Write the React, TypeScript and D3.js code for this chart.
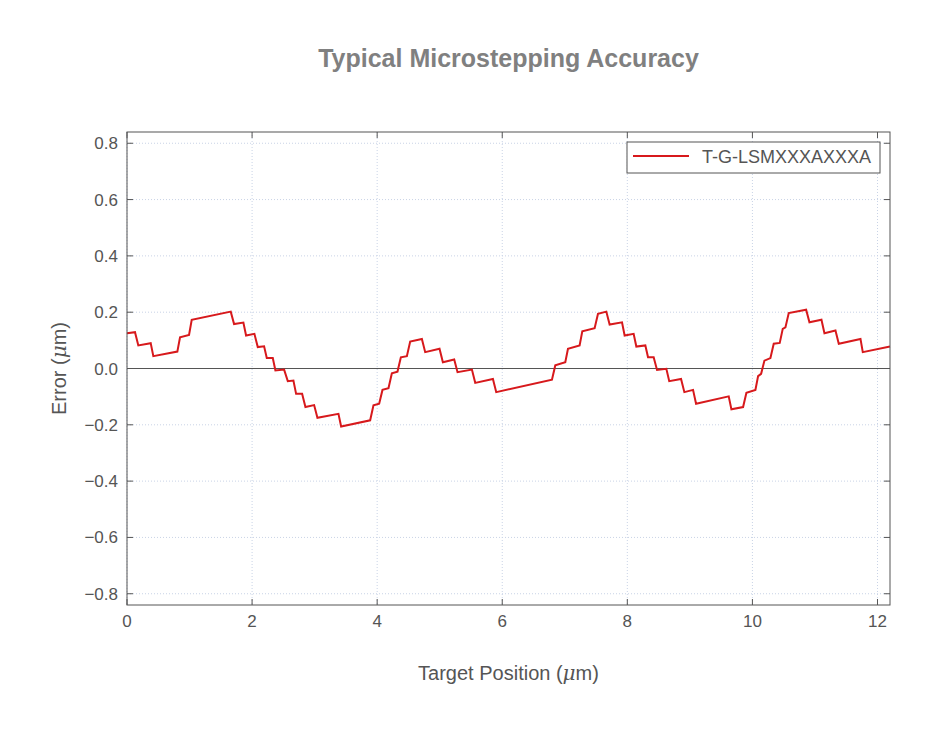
import { useEffect, useRef } from 'react';
import * as d3 from 'd3';

// measured error trace: target position (µm) and error (µm)
const positions = [
  0, 0.128, 0.181, 0.379, 0.421, 0.805, 0.848, 0.992, 1.035, 1.659, 1.712, 1.861, 1.904,
  2.037, 2.091, 2.192, 2.235, 2.331, 2.373, 2.512, 2.571, 2.661, 2.704, 2.8, 2.853, 2.992,
  3.045, 3.381, 3.424, 3.888, 3.941, 4.032, 4.085, 4.181, 4.235, 4.325, 4.379, 4.475, 4.528,
  4.715, 4.768, 4.997, 5.051, 5.232, 5.285, 5.515, 5.568, 5.851, 5.904, 6.795, 6.848, 7.008,
  7.051, 7.237, 7.28, 7.477, 7.531, 7.664, 7.717, 7.915, 7.957, 8.101, 8.144, 8.288, 8.331,
  8.421, 8.475, 8.624, 8.67, 8.859, 8.912, 9.051, 9.099, 9.621, 9.664, 9.851, 9.904, 10.048,
  10.091, 10.139, 10.192, 10.288, 10.341, 10.437, 10.485, 10.528, 10.581, 10.859, 10.912,
  11.104, 11.152, 11.328, 11.381, 11.728, 11.765, 12.2,
];
const errors = [
  0.125, 0.129, 0.082, 0.09, 0.044, 0.06, 0.111, 0.119, 0.173, 0.202, 0.158, 0.163, 0.117,
  0.123, 0.076, 0.079, 0.037, 0.037, -0.007, -0.004, -0.045, -0.043, -0.09, -0.09, -0.137, -0.13,
  -0.175, -0.161, -0.206, -0.184, -0.131, -0.125, -0.076, -0.07, -0.017, -0.011, 0.04, 0.044, 0.096,
  0.105, 0.058, 0.07, 0.022, 0.032, -0.013, -0.004, -0.051, -0.037, -0.084, -0.04, 0.011, 0.022,
  0.07, 0.082, 0.132, 0.143, 0.194, 0.202, 0.156, 0.164, 0.117, 0.123, 0.078, 0.082, 0.04,
  0.04, -0.005, -0.001, -0.045, -0.037, -0.084, -0.076, -0.125, -0.099, -0.145, -0.137, -0.086, -0.076,
  -0.027, -0.019, 0.028, 0.037, 0.088, 0.091, 0.141, 0.146, 0.197, 0.209, 0.164,
  0.173, 0.125, 0.135, 0.088, 0.105, 0.058, 0.078,
];
const xTicks = [0, 2, 4, 6, 8, 10, 12];
const yTicks = [-0.8, -0.6, -0.4, -0.2, 0, 0.2, 0.4, 0.6, 0.8];
const seriesName = 'T-G-LSMXXXAXXXA';

const W = 938;
const H = 735;
const margin = { left: 127, right: 48, top: 132, bottom: 130 };
const font = '"Liberation Sans", Arial, sans-serif';

export default function App() {
  const svgRef = useRef(null);

  useEffect(() => {
    document.body.style.margin = '0';
    const svg = d3.select(svgRef.current);
    svg.selectAll('*').remove();

    const x = d3.scaleLinear().domain([0, 12.2]).range([margin.left, W - margin.right]);
    const y = d3.scaleLinear().domain([-0.84, 0.84]).range([H - margin.bottom, margin.top]);
    const [x0, x1] = x.range();
    const [y1, y0] = y.range();

    svg.append('rect').attr('width', W).attr('height', H).attr('fill', '#fff');

    // grid
    const grid = svg.append('g').attr('stroke', '#c9d3e6').attr('stroke-width', 1)
      .attr('stroke-dasharray', '1,2');
    xTicks.forEach(t => {
      grid.append('line').attr('x1', x(t)).attr('x2', x(t)).attr('y1', y0).attr('y2', y1);
    });
    yTicks.forEach(t => {
      grid.append('line').attr('x1', x0).attr('x2', x1).attr('y1', y(t)).attr('y2', y(t));
    });

    // zero line
    svg.append('line').attr('x1', x0).attr('x2', x1).attr('y1', y(0)).attr('y2', y(0))
      .attr('stroke', '#555').attr('stroke-width', 1.2);

    // error trace
    const pts = positions.map((p, i) => [p, errors[i]] as [number, number]);
    const line = d3.line<[number, number]>().x(d => x(d[0])).y(d => y(d[1]));
    svg.append('path').attr('d', line(pts)).attr('fill', 'none')
      .attr('stroke', '#d7191c').attr('stroke-width', 2).attr('stroke-linejoin', 'miter');

    // frame and inward ticks
    svg.append('rect').attr('x', x0).attr('y', y0).attr('width', x1 - x0).attr('height', y1 - y0)
      .attr('fill', 'none').attr('stroke', '#555').attr('stroke-width', 1);
    const ticks = svg.append('g').attr('stroke', '#555').attr('stroke-width', 1);
    const tl = 6;
    xTicks.forEach(t => {
      ticks.append('line').attr('x1', x(t)).attr('x2', x(t)).attr('y1', y1).attr('y2', y1 - tl);
      ticks.append('line').attr('x1', x(t)).attr('x2', x(t)).attr('y1', y0).attr('y2', y0 + tl);
    });
    yTicks.forEach(t => {
      ticks.append('line').attr('x1', x0).attr('x2', x0 + tl).attr('y1', y(t)).attr('y2', y(t));
      ticks.append('line').attr('x1', x1).attr('x2', x1 - tl).attr('y1', y(t)).attr('y2', y(t));
    });

    const fmtY = (v: number) => (v === 0 ? '0.0' : d3.format('.1f')(v).replace('-', '\u2212'));
    const labels = svg.append('g').attr('font-family', font).attr('font-size', 17).attr('fill', '#555');
    xTicks.forEach(t => {
      labels.append('text').attr('x', x(t)).attr('y', y1 + 22).attr('text-anchor', 'middle').text(t);
    });
    yTicks.forEach(t => {
      labels.append('text').attr('x', x0 - 9).attr('y', y(t) + 6).attr('text-anchor', 'end').text(fmtY(t));
    });

    // title and axis titles
    svg.append('text').attr('x', (x0 + x1) / 2).attr('y', 67).attr('text-anchor', 'middle')
      .attr('font-family', font).attr('font-size', 25).attr('font-weight', 'bold')
      .attr('fill', '#808080').text('Typical Microstepping Accuracy');

    const xl = svg.append('text').attr('x', (x0 + x1) / 2).attr('y', 680).attr('text-anchor', 'middle')
      .attr('font-family', font).attr('font-size', 20).attr('fill', '#555');
    xl.append('tspan').text('Target Position (');
    xl.append('tspan').attr('font-style', 'italic').attr('font-family', '"DejaVu Serif", serif').text('\u03bc');
    xl.append('tspan').text('m)');

    const yl = svg.append('text')
      .attr('transform', `translate(66, ${(y0 + y1) / 2}) rotate(-90)`).attr('text-anchor', 'middle')
      .attr('font-family', font).attr('font-size', 20).attr('fill', '#555');
    yl.append('tspan').text('Error (');
    yl.append('tspan').attr('font-style', 'italic').attr('font-family', '"DejaVu Serif", serif').text('\u03bc');
    yl.append('tspan').text('m)');

    // legend
    const lg = svg.append('g').attr('transform', 'translate(627, 142)');
    lg.append('rect').attr('width', 253).attr('height', 31).attr('fill', '#fff')
      .attr('stroke', '#555').attr('stroke-width', 1);
    lg.append('line').attr('x1', 6).attr('x2', 62).attr('y1', 14).attr('y2', 14)
      .attr('stroke', '#d7191c').attr('stroke-width', 2);
    lg.append('text').attr('x', 75).attr('y', 21).attr('font-family', font).attr('font-size', 18)
      .attr('fill', '#555').text(seriesName);
  }, []);

  return (
    <svg ref={svgRef} width={W} height={H} style={{ display: 'block' }} />
  );
}
